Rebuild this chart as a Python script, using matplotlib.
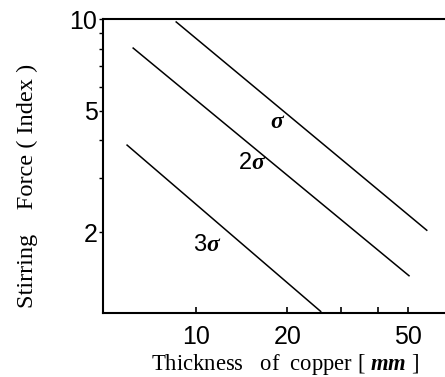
import matplotlib
matplotlib.use("Agg")
import matplotlib.pyplot as plt
from matplotlib.ticker import FixedLocator, NullFormatter

plt.rcParams['mathtext.fontset'] = 'custom'
plt.rcParams['mathtext.it'] = 'Liberation Serif:italic:bold'
plt.rcParams['mathtext.rm'] = 'Liberation Serif'

# Data
series_names = [r"$\sigma$", r"2$\sigma$", r"3$\sigma$"]
sigma1_x = [8.6, 57.8]
sigma1_y = [9.78, 2.03]
sigma2_x = [6.2, 50.5]
sigma2_y = [8.03, 1.44]
sigma3_x = [5.92, 25.8]
sigma3_y = [3.86, 1.10]
label_x = [18.6, 15.3, 10.9]
label_y = [4.6, 3.37, 1.82]

x_major = [10, 20, 50]
x_minor = [30, 40]
y_major = [2, 5, 10]
y_minor = [3, 4, 6, 7, 8, 9]

fig = plt.figure(figsize=(4.45, 3.77), dpi=100)
ax = fig.add_axes([0.2315, 0.1698, 0.7685, 0.7798])

for xs, ys in [(sigma1_x, sigma1_y), (sigma2_x, sigma2_y), (sigma3_x, sigma3_y)]:
    ax.plot(xs, ys, color='black', lw=1.1)

ax.set_xscale('log')
ax.set_yscale('log')
ax.set_xlim(4.93, 66.4)
ax.set_ylim(1.087, 10)

ax.xaxis.set_major_locator(FixedLocator(x_major))
ax.xaxis.set_minor_locator(FixedLocator(x_minor))
ax.yaxis.set_major_locator(FixedLocator(y_major))
ax.yaxis.set_minor_locator(FixedLocator(y_minor))
ax.set_xticklabels([str(v) for v in x_major])
ax.set_yticklabels([str(v) for v in y_major])
ax.xaxis.set_minor_formatter(NullFormatter())
ax.yaxis.set_minor_formatter(NullFormatter())

ax.tick_params(axis='x', which='both', direction='in', length=4, width=1.2,
               labelsize=18, pad=9)
ax.tick_params(axis='y', which='both', direction='out', length=3, width=1.0,
               labelsize=18, pad=1)
for lab in ax.get_xticklabels() + ax.get_yticklabels():
    lab.set_fontfamily('Liberation Sans')

ax.spines['right'].set_visible(False)
for s in ['left', 'bottom', 'top']:
    ax.spines[s].set_linewidth(1.5)

for name, lx, ly in zip(series_names, label_x, label_y):
    ax.text(lx, ly, name, fontsize=17, family='Liberation Sans',
            ha='center', va='center')

ax.set_xlabel(r"Thickness   of  copper [ $\mathit{mm}$ ]", fontsize=16.3,
              family='Liberation Serif')
ax.xaxis.set_label_coords(0.531, -0.132)
ax.set_ylabel("Stirring    Force ( Index )", fontsize=17.6,
              family='Liberation Serif')
ax.yaxis.set_label_coords(-0.19, 0.432)

fig.savefig("out.png", dpi=100)
